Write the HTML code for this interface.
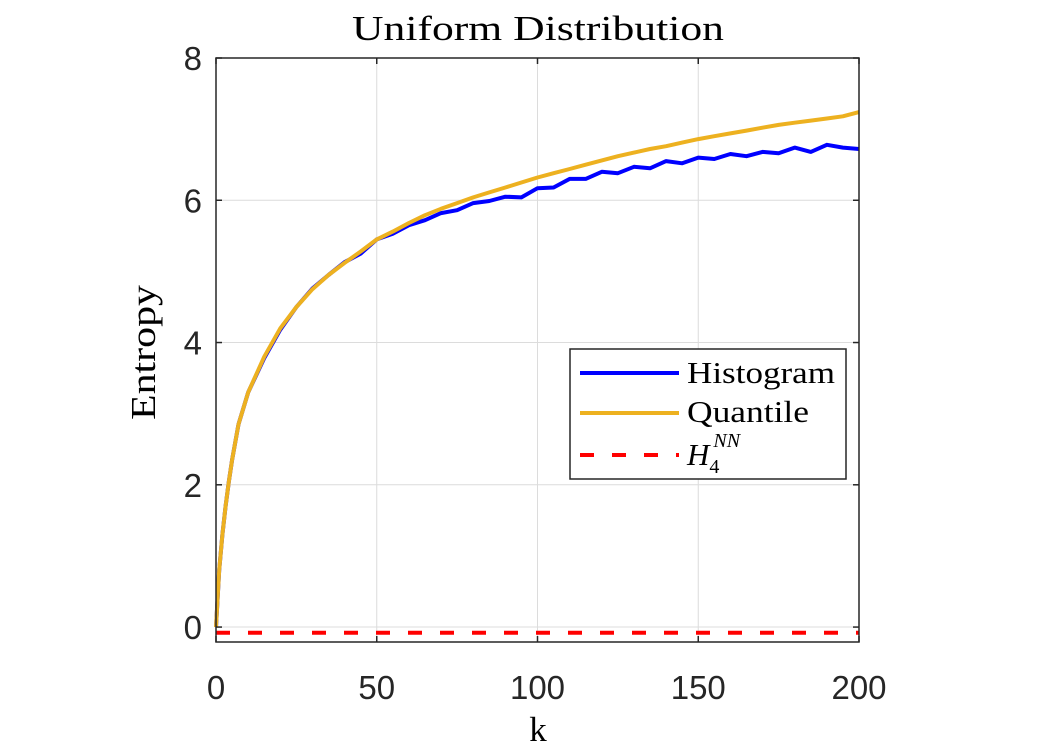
<!DOCTYPE html>
<html><head><meta charset="utf-8"><style>
body{margin:0;background:#fff}
svg{display:block}
</style></head><body>
<svg id="c" width="1039" height="756" xmlns="http://www.w3.org/2000/svg"></svg>
<script>
const kVals=[0,1,2,3,4,5,7,10,15,20,25,30,35,40,45,50,55,60,65,70,75,80,85,90,95,100,105,110,115,120,125,130,135,140,145,150,155,160,165,170,175,180,185,190,195,200];
const quantile=[0,0.8,1.3,1.7,2.05,2.35,2.85,3.3,3.8,4.2,4.5,4.75,4.95,5.12,5.28,5.45,5.56,5.68,5.79,5.88,5.96,6.04,6.11,6.18,6.25,6.32,6.38,6.44,6.50,6.56,6.62,6.67,6.72,6.76,6.81,6.86,6.90,6.94,6.98,7.02,7.06,7.09,7.12,7.15,7.18,7.24];
const histogram=[0,0.8,1.3,1.7,2.05,2.35,2.85,3.3,3.78,4.18,4.5,4.76,4.95,5.13,5.25,5.45,5.53,5.65,5.72,5.82,5.86,5.96,5.99,6.05,6.04,6.17,6.18,6.3,6.3,6.4,6.38,6.47,6.45,6.55,6.52,6.6,6.58,6.65,6.62,6.68,6.66,6.74,6.68,6.78,6.74,6.72];
const hnn=-0.08;
const xTicks=[0,50,100,150,200];
const yTicks=[0,2,4,6,8];
const NS='http://www.w3.org/2000/svg';
const svg=document.getElementById('c');
const L=216,R=859,T=58,B=642,xmin=0,xmax=200,ymin=-0.21,ymax=8;
const X=v=>L+(v-xmin)/(xmax-xmin)*(R-L);
const Y=v=>B-(v-ymin)/(ymax-ymin)*(B-T);
function mk(t,a,p){const e=document.createElementNS(NS,t);for(const k in a)e.setAttribute(k,a[k]);(p||svg).appendChild(e);return e;}
xTicks.forEach(v=>{const e=mk('line',{x1:X(v),x2:X(v),y1:T,y2:B,stroke:'#dcdcdc','stroke-width':1});

});
yTicks.forEach(v=>{const e=mk('line',{x1:L,x2:R,y1:Y(v),y2:Y(v),stroke:'#dcdcdc','stroke-width':1});

});
function line(xs,ys,col,name,dash){const d=xs.map((k,i)=>(i?'L':'M')+X(k).toFixed(1)+','+Y(ys[i]).toFixed(1)).join('');
const e=mk('path',{d:d,fill:'none',stroke:col,'stroke-width':4,'stroke-linejoin':'round'});if(dash)e.setAttribute('stroke-dasharray',dash);

}
line(kVals,histogram,'#0000ff','histogram-line');
line(kVals,quantile,'#edb120','quantile-line');
line([xmin,xmax],[hnn,hnn],'#ff0000','hnn-line','14,18');
const box=mk('rect',{x:L,y:T,width:R-L,height:B-T,fill:'none',stroke:'#262626','stroke-width':1.5});


xTicks.forEach(v=>{mk('line',{x1:X(v),x2:X(v),y1:B,y2:B-6,stroke:'#262626','stroke-width':1.5});mk('line',{x1:X(v),x2:X(v),y1:T,y2:T+6,stroke:'#262626','stroke-width':1.5});
const t=mk('text',{x:X(v),y:B+57,'text-anchor':'middle','font-family':'Liberation Sans, sans-serif','font-size':33,fill:'#262626'});t.textContent=v;

});
yTicks.forEach(v=>{mk('line',{x1:L,x2:L+6,y1:Y(v),y2:Y(v),stroke:'#262626','stroke-width':1.5});mk('line',{x1:R,x2:R-6,y1:Y(v),y2:Y(v),stroke:'#262626','stroke-width':1.5});
const t=mk('text',{x:L-14,y:Y(v)+12,'text-anchor':'end','font-family':'Liberation Sans, sans-serif','font-size':33,fill:'#262626'});t.textContent=v;

});
</script>
<svg width="1039" height="756" style="position:absolute;left:0;top:0" xmlns="http://www.w3.org/2000/svg">
<text x="352" y="40" textLength="372" lengthAdjust="spacingAndGlyphs" font-family="Liberation Serif, serif" font-size="35" fill="#000">Uniform Distribution</text>
<text x="538" y="741" text-anchor="middle" font-family="Liberation Serif, serif" font-size="35" fill="#000">k</text>
<text transform="translate(155,420) rotate(-90)" textLength="135" lengthAdjust="spacingAndGlyphs" font-family="Liberation Serif, serif" font-size="35" fill="#000">Entropy</text>
<g>
<rect x="570" y="349" width="276" height="130" fill="#fff" stroke="#262626" stroke-width="1.5"/>
<line x1="580" x2="679" y1="373" y2="373" stroke="#0000ff" stroke-width="4"/>
<text x="687" y="383" textLength="148" lengthAdjust="spacingAndGlyphs" font-family="Liberation Serif, serif" font-size="31">Histogram</text>
<line x1="580" x2="679" y1="413" y2="413" stroke="#edb120" stroke-width="4"/>
<text x="687" y="422" textLength="122" lengthAdjust="spacingAndGlyphs" font-family="Liberation Serif, serif" font-size="31">Quantile</text>
<line x1="580" x2="679" y1="455" y2="455" stroke="#ff0000" stroke-width="4" stroke-dasharray="14,18"/>
<text x="687" y="465" font-family="Liberation Serif, serif" font-size="31" font-style="italic">H<tspan font-size="20" dy="8" font-style="normal">4</tspan><tspan font-size="20" dx="-6" dy="-26">NN</tspan></text>
</g>
</svg>
</body></html>
